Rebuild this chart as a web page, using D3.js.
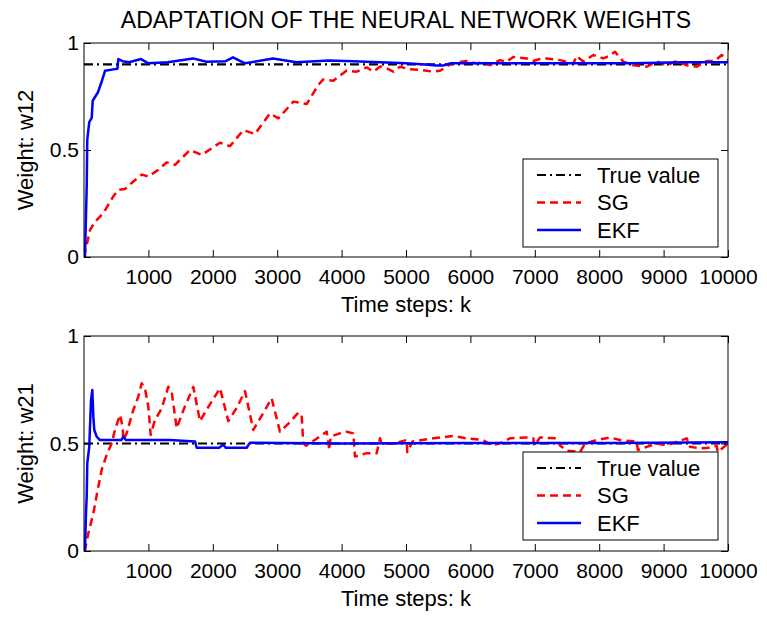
<!DOCTYPE html>
<html>
<head>
<meta charset="utf-8">
<script src="https://cdn.jsdelivr.net/npm/d3@7/dist/d3.min.js"></script>
<style>
  html, body { margin: 0; padding: 0; background: #fff; }
  svg text { font-family: "Liberation Sans", Arial, Helvetica, sans-serif; fill: #000; }
</style>
</head>
<body>
<svg id="fig" width="767" height="617"></svg>
<script>
// ---- data: weight estimates vs time step k ----
const xTicks = [1000, 2000, 3000, 4000, 5000, 6000, 7000, 8000, 9000, 10000];
const yTicks = [0, 0.5, 1];
const seriesNames = ["True value", "SG", "EKF"];

// w12 panel
const w12True = 0.9;
const w12SG_k = [0, 15, 93, 171, 300, 455, 533, 637, 766, 896, 1000, 1154, 1284, 1413, 1646, 1827, 2112, 2267, 2474, 2655, 2888, 3018, 3251, 3458, 3638, 3716, 3871, 4079, 4234, 4390, 4493, 4600, 4700, 4803, 4907, 5062, 5217, 5424, 5528, 5683, 5800, 5942, 6098, 6200, 6304, 6460, 6560, 6666, 6874, 6977, 7080, 7185, 7391, 7500, 7598, 7650, 7753, 7909, 8064, 8160, 8245, 8374, 8530, 8737, 8893, 9048, 9203, 9359, 9514, 9669, 9798, 9902, 10000];
const w12SG_w = [0, 0.02, 0.126, 0.165, 0.205, 0.283, 0.314, 0.318, 0.353, 0.385, 0.376, 0.408, 0.442, 0.431, 0.5, 0.477, 0.534, 0.518, 0.593, 0.575, 0.671, 0.648, 0.726, 0.715, 0.804, 0.83, 0.824, 0.871, 0.866, 0.886, 0.866, 0.89, 0.882, 0.866, 0.889, 0.877, 0.874, 0.866, 0.87, 0.9, 0.91, 0.916, 0.904, 0.912, 0.896, 0.92, 0.912, 0.935, 0.928, 0.916, 0.925, 0.928, 0.92, 0.912, 0.904, 0.939, 0.913, 0.944, 0.928, 0.94, 0.959, 0.913, 0.896, 0.889, 0.913, 0.896, 0.916, 0.896, 0.889, 0.916, 0.916, 0.944, 0.92];
const w12EKF_k = [0, 15, 42, 51, 82, 120, 135, 217, 275, 326, 481, 520, 533, 600, 700, 885, 1000, 1300, 1693, 1900, 2200, 2314, 2500, 2935, 3300, 3800, 4177, 4600, 5000, 5300, 5466, 5575, 5700, 6500, 7500, 8500, 9300, 10000];
const w12EKF_w = [0, 0, 0.33, 0.55, 0.63, 0.65, 0.73, 0.77, 0.82, 0.87, 0.878, 0.88, 0.925, 0.915, 0.91, 0.925, 0.905, 0.91, 0.928, 0.912, 0.915, 0.933, 0.905, 0.928, 0.91, 0.918, 0.915, 0.91, 0.905, 0.9, 0.895, 0.895, 0.905, 0.905, 0.905, 0.905, 0.91, 0.91];

// w21 panel
const w21True = 0.5;
const w21SG_k = [0, 15, 67, 145, 222, 274, 352, 430, 481, 559, 600, 611, 662, 766, 843, 896, 947, 999, 1035, 1102, 1206, 1309, 1361, 1439, 1550, 1698, 1801, 1950, 2112, 2241, 2380, 2500, 2629, 2780, 2914, 3043, 3200, 3328, 3380, 3405, 3450, 3600, 3768, 3810, 3830, 3950, 4079, 4182, 4208, 4390, 4545, 4596, 4620, 4800, 5010, 5020, 5100, 5424, 5735, 5942, 6200, 6330, 6450, 6615, 6874, 6977, 6990, 7081, 7340, 7391, 7495, 7702, 7780, 7961, 8168, 8323, 8582, 8600, 8893, 9048, 9359, 9410, 9565, 9720, 9824, 9840, 10000];
const w21SG_w = [0, 0.005, 0.082, 0.175, 0.299, 0.377, 0.447, 0.501, 0.563, 0.633, 0.578, 0.516, 0.547, 0.656, 0.718, 0.78, 0.756, 0.671, 0.54, 0.609, 0.663, 0.764, 0.74, 0.571, 0.66, 0.763, 0.604, 0.68, 0.757, 0.604, 0.67, 0.744, 0.563, 0.64, 0.71, 0.555, 0.6, 0.644, 0.63, 0.5, 0.49, 0.52, 0.555, 0.47, 0.532, 0.545, 0.555, 0.547, 0.439, 0.455, 0.455, 0.524, 0.5, 0.5, 0.516, 0.46, 0.509, 0.524, 0.535, 0.524, 0.516, 0.491, 0.5, 0.524, 0.528, 0.524, 0.49, 0.528, 0.524, 0.491, 0.467, 0.46, 0.5, 0.516, 0.528, 0.516, 0.509, 0.47, 0.5, 0.491, 0.524, 0.485, 0.477, 0.48, 0.49, 0.46, 0.5];
const w21EKF_k = [0, 15, 31, 42, 51, 82, 93, 109, 129, 145, 160, 197, 248, 580, 611, 650, 1000, 1335, 1724, 1750, 2100, 2163, 2200, 2526, 2578, 4000, 6000, 8168, 10000];
const w21EKF_w = [0, 0.005, 0.175, 0.253, 0.408, 0.485, 0.578, 0.702, 0.749, 0.625, 0.563, 0.532, 0.516, 0.516, 0.532, 0.516, 0.516, 0.516, 0.509, 0.48, 0.48, 0.495, 0.48, 0.48, 0.504, 0.5, 0.502, 0.502, 0.506];

// ---- layout ----
const svg = d3.select("#fig");
const left = 84, right = 728;
const panels = [
  { top: 43, bottom: 257, ylabel: "Weight: w12", trueVal: w12True,
    sgK: w12SG_k, sgW: w12SG_w, ekfK: w12EKF_k, ekfW: w12EKF_w },
  { top: 336, bottom: 551, ylabel: "Weight: w21", trueVal: w21True,
    sgK: w21SG_k, sgW: w21SG_w, ekfK: w21EKF_k, ekfW: w21EKF_w }
];

const styles = {
  "True value": { color: "#000", dash: "9,4,2,4", width: 2.2 },
  "SG": { color: "#ff0000", dash: "8,5", width: 2.5 },
  "EKF": { color: "#0000ff", dash: null, width: 2.5 }
};

svg.append("text")
  .attr("x", (left + right) / 2).attr("y", 28)
  .attr("text-anchor", "middle")
  .style("font-size", "23px")
  .text("ADAPTATION OF THE NEURAL NETWORK WEIGHTS");

panels.forEach(p => {
  const x = d3.scaleLinear().domain([0, 10000]).range([left, right]);
  const y = d3.scaleLinear().domain([0, 1]).range([p.bottom, p.top]);
  const g = svg.append("g");

  const clipId = "clip" + p.top;
  g.append("clipPath").attr("id", clipId).append("rect")
    .attr("x", left).attr("y", p.top - 2).attr("width", right - left).attr("height", p.bottom - p.top + 2);

  const line = d3.line().x(d => x(d[0])).y(d => y(d[1]));
  const plot = g.append("g").attr("clip-path", `url(#${clipId})`);

  const drawSeries = (pts, name) => {
    const s = styles[name];
    plot.append("path").datum(pts)
      .attr("d", line)
      .attr("fill", "none")
      .attr("stroke", s.color)
      .attr("stroke-width", s.width)
      .attr("stroke-linejoin", "round")
      .attr("stroke-dasharray", s.dash);
  };
  drawSeries([[0, p.trueVal], [10000, p.trueVal]], "True value");
  drawSeries(p.sgK.map((k, i) => [k, p.sgW[i]]), "SG");
  drawSeries(p.ekfK.map((k, i) => [k, p.ekfW[i]]), "EKF");

  // axes, MATLAB-style inward ticks on all four sides
  const tl = 7;
  g.append("g").attr("transform", `translate(0,${p.bottom})`)
    .call(d3.axisBottom(x).tickValues(xTicks).tickSizeInner(-tl).tickSizeOuter(0).tickPadding(12).tickFormat(d3.format("d")))
    .call(a => a.selectAll("text").style("font-size", "21px"));
  g.append("g").attr("transform", `translate(0,${p.top})`)
    .call(d3.axisTop(x).tickValues(xTicks).tickSizeInner(-tl).tickSizeOuter(0).tickFormat(""));
  g.append("g").attr("transform", `translate(${left},0)`)
    .call(d3.axisLeft(y).tickValues(yTicks).tickSizeInner(-tl).tickSizeOuter(0).tickPadding(5).tickFormat(d3.format("")))
    .call(a => a.selectAll("text").style("font-size", "21px"));
  g.append("g").attr("transform", `translate(${right},0)`)
    .call(d3.axisRight(y).tickValues(yTicks).tickSizeInner(-tl).tickSizeOuter(0).tickFormat(""));
  g.selectAll(".domain").remove();
  g.selectAll(".tick line").attr("stroke", "#000").attr("stroke-width", 1);
  g.selectAll("text").attr("font-family", null);
  g.append("rect")
    .attr("x", left).attr("y", p.top).attr("width", right - left).attr("height", p.bottom - p.top)
    .attr("fill", "none").attr("stroke", "#000").attr("stroke-width", 1);

  // axis labels
  svg.append("text")
    .attr("x", (left + right) / 2).attr("y", p.bottom + 55)
    .attr("text-anchor", "middle").style("font-size", "22px")
    .text("Time steps: k");
  svg.append("text")
    .attr("transform", `translate(33,${(p.top + p.bottom) / 2}) rotate(-90)`)
    .attr("text-anchor", "middle").style("font-size", "22px")
    .text(p.ylabel);

  // legend
  const lx = 523, ly = p.top + 116, lw = 195, lh = 88;
  const lg = svg.append("g");
  lg.append("rect").attr("x", lx).attr("y", ly).attr("width", lw).attr("height", lh)
    .attr("fill", "#fff").attr("stroke", "#000").attr("stroke-width", 1);
  seriesNames.forEach((name, i) => {
    const cy = ly + 16 + i * 27.5;
    const s = styles[name];
    lg.append("line").attr("x1", lx + 14).attr("x2", lx + 58).attr("y1", cy).attr("y2", cy)
      .attr("stroke", s.color).attr("stroke-width", s.width).attr("stroke-dasharray", s.dash);
    lg.append("text").attr("x", lx + 74).attr("y", cy).attr("dy", "0.36em")
      .style("font-size", "22px").text(name);
  });
});
</script>
</body>
</html>
